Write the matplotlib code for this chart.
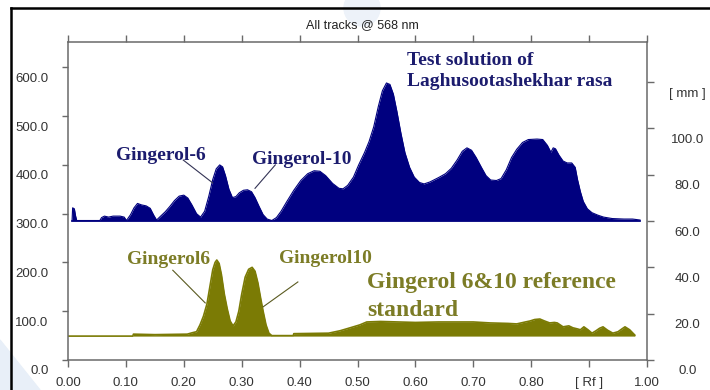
import numpy as np
import matplotlib
matplotlib.use("Agg")
import matplotlib.pyplot as plt
from matplotlib.transforms import ScaledTranslation
from matplotlib.lines import Line2D
from matplotlib.patches import Polygon, Ellipse

plt.rcParams["font.family"] = ["Liberation Sans", "DejaVu Sans"]

# densitogram of the test solution track (Rf, AU)
rf_test = [0.007, 0.008, 0.011, 0.013, 0.015, 0.055, 0.058, 0.063, 0.070, 0.078,
           0.090, 0.097, 0.101, 0.108, 0.114, 0.120, 0.127, 0.135, 0.142, 0.148,
           0.153, 0.160, 0.168, 0.176, 0.184, 0.192, 0.200, 0.207, 0.214, 0.222,
           0.229, 0.236, 0.243, 0.250, 0.256, 0.262, 0.267, 0.272, 0.278, 0.284,
           0.290, 0.296, 0.303, 0.310, 0.317, 0.323, 0.330, 0.337, 0.344, 0.352,
           0.360, 0.368, 0.378, 0.390, 0.402, 0.414, 0.425, 0.435, 0.445, 0.457,
           0.468, 0.475, 0.483, 0.493, 0.502, 0.512, 0.520, 0.528, 0.536, 0.543,
           0.550, 0.556, 0.562, 0.568, 0.575, 0.582, 0.590, 0.598, 0.607, 0.615,
           0.625, 0.640, 0.652, 0.662, 0.672, 0.681, 0.689, 0.697, 0.705, 0.714,
           0.722, 0.730, 0.740, 0.748, 0.757, 0.766, 0.775, 0.785, 0.795, 0.810,
           0.820, 0.828, 0.834, 0.838, 0.842, 0.848, 0.855, 0.862, 0.870, 0.876,
           0.880, 0.885, 0.890, 0.897, 0.905, 0.915, 0.925, 0.940, 0.960, 0.975,
           0.988]
au_test = [285, 312, 310, 296, 286, 286, 292, 295, 293, 295,
           295, 293, 286, 298, 312, 321, 318, 316, 311, 297,
           287, 295, 304, 315, 327, 336, 338, 332, 318, 300,
           293, 305, 335, 370, 392, 400, 396, 378, 350, 333,
           335, 343, 348, 349, 345, 333, 315, 298, 289, 286,
           292, 305, 325, 348, 368, 382, 388, 387, 378, 362,
           352, 351, 358, 375, 400, 425, 448, 478, 520, 552,
           568, 565, 545, 510, 465, 425, 395, 375, 364, 361,
           365, 374, 382, 393, 410, 428, 435, 430, 415, 395,
           378, 369, 368, 372, 390, 415, 432, 446, 452, 453,
           452, 440, 426, 435, 433, 420, 408, 404, 404, 395,
           370, 345, 325, 310, 302, 297, 293, 290, 289, 289,
           287]
base_test = 285

# densitogram of the gingerol 6 & 10 reference track
rf_std = [0.000, 0.112, 0.113, 0.150, 0.206, 0.215, 0.222, 0.228, 0.234, 0.240,
          0.245, 0.250, 0.254, 0.257, 0.261, 0.265, 0.270, 0.275, 0.280, 0.285,
          0.290, 0.295, 0.300, 0.306, 0.312, 0.318, 0.323, 0.328, 0.333, 0.337,
          0.342, 0.347, 0.352, 0.389, 0.390, 0.450, 0.470, 0.490, 0.504, 0.516,
          0.540, 0.600, 0.640, 0.700, 0.729, 0.760, 0.775, 0.790, 0.798, 0.806,
          0.815, 0.823, 0.832, 0.840, 0.845, 0.855, 0.865, 0.872, 0.879, 0.885,
          0.891, 0.898, 0.905, 0.912, 0.918, 0.924, 0.932, 0.941, 0.950, 0.957,
          0.962, 0.970, 0.979]
au_std = [49, 49, 53, 52, 53, 56, 58, 72, 90, 115,
          150, 185, 200, 205, 198, 175, 135, 105, 80, 70,
          78, 100, 135, 170, 186, 190, 182, 158, 125, 100,
          72, 55, 50, 50, 54, 55, 60, 67, 72, 78,
          79, 77, 78, 78, 76, 75, 74, 78, 80, 83,
          84, 80, 76, 77, 76, 68, 70, 66, 64, 62,
          68, 62, 55, 60, 65, 68, 61, 55, 58, 64,
          68, 62, 51]
base_std = 49

left_ticks = [0, 100, 200, 300, 400, 500, 600]
left_labels = ["0.0", "100.0", "200.0", "300.0", "400.0", "500.0", "600.0"]
right_ticks = [0, 20, 40, 60, 80, 100, 120]
right_labels = ["0.0", "20.0", "40.0", "60.0", "80.0", "100.0", "[ mm ]"]
x_ticks = [0.0, 0.1, 0.2, 0.3, 0.4, 0.5, 0.6, 0.7, 0.8, 0.9, 1.0]
x_labels = ["0.00", "0.10", "0.20", "0.30", "0.40", "0.50", "0.60", "0.70", "0.80", "[ Rf ]", "1.00"]

navy = "#00007f"
olive = "#7b7b05"
navy_txt = "#1c1c6e"
olive_txt = "#7c7c26"
axis_grey = "#6a6a6a"

fig = plt.figure(figsize=(7.1, 3.9), dpi=100)
ax = fig.add_axes([68 / 710, 30 / 390, 579 / 710, 318 / 390])

# faint background shapes
fig.patches.append(Ellipse((362 / 710, 382 / 390), 36 / 710, 36 / 390, transform=fig.transFigure,
                           color="#edf2f9", zorder=0))
fig.patches.append(Polygon([(0, 0), (0, 50 / 390), (40 / 710, 0)], closed=True,
                           transform=fig.transFigure, color="#e8eff8", zorder=0))

ax.fill_between(rf_test, base_test, au_test, color=navy, lw=0)
ax.plot(rf_test, au_test, color=navy, lw=0.8)
ax.plot([rf_test[0], rf_test[-1]], [base_test, base_test], color=navy, lw=1.2)

ax.fill_between(rf_std, base_std, au_std, color=olive, lw=0)
ax.plot(rf_std, au_std, color=olive, lw=1.2)

ax.set_xlim(0, 1.0)
ax.set_ylim(0, 652)
ax.patch.set_alpha(0)

for sp in ax.spines.values():
    sp.set_color(axis_grey)
    sp.set_linewidth(1.1)

ax.set_xticks(x_ticks)
ax.set_xticklabels(x_labels)
ax.set_yticks(left_ticks)
ax.set_yticklabels(left_labels)
ax.tick_params(axis="x", direction="out", length=5, width=1, color=axis_grey, top=True,
               labelsize=9.5, labelcolor="#333333", pad=7)
ax.tick_params(axis="y", direction="out", length=4, width=1, color=axis_grey,
               labelsize=9.5, labelcolor="#333333", pad=10)

ax2 = ax.twinx()
ax2.set_ylim(0, 137.3)
ax2.set_yticks(right_ticks)
ax2.set_yticklabels(right_labels)
ax2.tick_params(axis="y", direction="out", length=5, width=1, color=axis_grey,
                labelsize=9.5, labelcolor="#333333", pad=24)
for sp in ax2.spines.values():
    sp.set_visible(False)

# numbers sit a little below their ticks
shift = ScaledTranslation(0, -0.10, fig.dpi_scale_trans)
for lab in ax.get_yticklabels():
    lab.set_transform(lab.get_transform() + shift)
for lab in ax2.get_yticklabels():
    lab.set_transform(lab.get_transform() + shift)
    lab.set_horizontalalignment("center")

fig.text(362 / 710, 1 - 25 / 390, "All tracks @ 568 nm", ha="center", va="center",
         fontsize=9, color="#222222")

# peak labels
serif = dict(family=["Liberation Serif", "DejaVu Serif"], weight="bold")
ax.text(0.161, 420, "Gingerol-6", color=navy_txt, fontsize=14, ha="center", va="center", **serif)
ax.text(0.404, 412, "Gingerol-10", color=navy_txt, fontsize=14, ha="center", va="center", **serif)
ax.text(0.585, 615, "Test solution of", color=navy_txt, fontsize=14, ha="left", va="center", **serif)
ax.text(0.585, 570, "Laghusootashekhar rasa", color=navy_txt, fontsize=14, ha="left", va="center", **serif)
ax.plot([0.199, 0.250], [410, 363], color="#333355", lw=0.8)
ax.plot([0.358, 0.323], [400, 352], color="#333355", lw=0.8)

ax.text(0.173, 207, "Gingerol6", color=olive_txt, fontsize=14, ha="center", va="center", **serif)
ax.text(0.444, 209, "Gingerol10", color=olive_txt, fontsize=14, ha="center", va="center", **serif)
ax.text(0.516, 158, "Gingerol 6&10 reference", color=olive_txt, fontsize=17, ha="left", va="center", **serif)
ax.text(0.516, 102, "standard", color=olive_txt, fontsize=17, ha="left", va="center", **serif)
ax.plot([0.181, 0.237], [184, 117], color="#5a5a20", lw=0.8)
ax.plot([0.397, 0.337], [160, 109], color="#5a5a20", lw=0.8)

# outer frame
fig.lines.append(Line2D([11 / 710, 11 / 710], [0, 1 - 8 / 390], transform=fig.transFigure,
                        color="black", lw=1.8))
fig.lines.append(Line2D([11 / 710, 1], [1 - 8 / 390, 1 - 8 / 390], transform=fig.transFigure,
                        color="black", lw=1.8))

fig.savefig("out.png", dpi=100)
